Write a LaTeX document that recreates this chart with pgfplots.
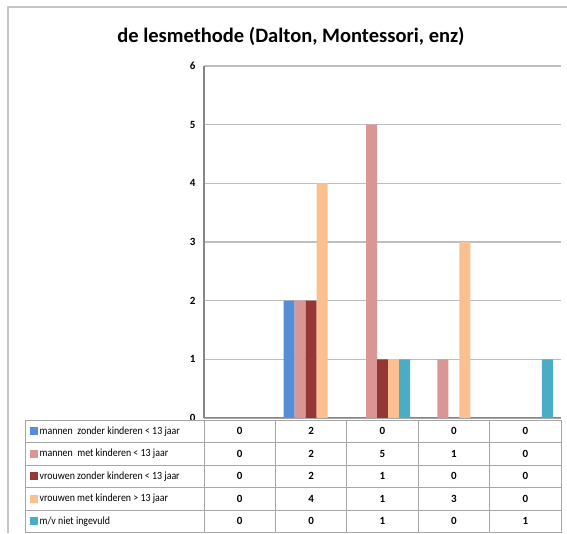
\documentclass[border=0pt]{standalone}
\usepackage{pgfplots}
\pgfplotsset{compat=1.18}
\usepackage{fontspec}
\setmainfont{Carlito}
\newfontfamily\labfont[FakeStretch=0.9]{Carlito}
\definecolor{cA}{RGB}{85,142,213}
\definecolor{cB}{RGB}{217,150,148}
\definecolor{cC}{RGB}{149,55,53}
\definecolor{cD}{RGB}{250,192,144}
\definecolor{cE}{RGB}{75,172,198}
\definecolor{gridc}{RGB}{190,190,190}
\definecolor{axc}{RGB}{134,134,134}
\begin{document}
\begin{tikzpicture}[x=1pt,y=1pt]
\path[use as bounding box] (0,0) rectangle (567,533);
\draw[gray!45, line width=1.6pt] (8,0) -- (8,526) -- (567,526);
\node[font=\bfseries\fontsize{20.5}{24}\selectfont] at (291,497) {de lesmethode (Dalton, Montessori, enz)};
\begin{axis}[
  at={(204pt,115pt)}, anchor=south west,
  width=357pt, height=352pt, scale only axis,
  ymin=0, ymax=6, xmin=-0.5, xmax=4.5,
  ybar=0pt, bar width=11pt,
  ytick={0,1,2,3,4,5,6}, xtick=\empty,
  ymajorgrids, grid style={gridc, line width=1.3pt},
  axis x line=bottom, axis y line=left,
  axis line style={-, axc, line width=1.6pt},
  major tick length=0pt,
  yticklabel style={font=\bfseries\fontsize{11}{13}\selectfont, xshift=-5pt},
  /pgf/number format/assume math mode=true,
  clip=false,
]
\addplot[fill=cA, draw=none] coordinates {(0,0) (1,2) (2,0) (3,0) (4,0)};
\addplot[fill=cB, draw=none] coordinates {(0,0) (1,2) (2,5) (3,1) (4,0)};
\addplot[fill=cC, draw=none] coordinates {(0,0) (1,2) (2,1) (3,0) (4,0)};
\addplot[fill=cD, draw=none] coordinates {(0,0) (1,4) (2,1) (3,3) (4,0)};
\addplot[fill=cE, draw=none] coordinates {(0,0) (1,0) (2,1) (3,0) (4,1)};
\end{axis}
\draw[gray!70, line width=1pt] (204,115) -- (561,115);
% data table
\foreach \yy in {113,90.5,68,45.5,23,0.5} {\draw[gray!70, line width=0.8pt] (25,\yy) -- (561,\yy);}
\foreach \xx in {25,204,275.4,346.8,418.2,489.6,561} {\draw[gray!70, line width=0.8pt] (\xx,0.5) -- (\xx,113);}
\foreach \lab/\col/\yc [count=\i] in {
  {mannen\ \ zonder kinderen < 13 jaar}/cA/101.75,
  {mannen\ \ met kinderen < 13 jaar}/cB/79.25,
  {vrouwen zonder kinderen < 13 jaar}/cC/56.75,
  {vrouwen met kinderen > 13 jaar}/cD/34.25,
  {m/v niet ingevuld}/cE/11.75} {
  \fill[\col] (30,\yc-4) rectangle (38,\yc+4);
  \node[anchor=west, inner sep=0pt, font=\labfont\fontsize{11}{12}\selectfont] at (39.5,\yc) {\lab};
}
\foreach \row/\yc in {{0,2,0,0,0}/101.75, {0,2,5,1,0}/79.25, {0,2,1,0,0}/56.75, {0,4,1,3,0}/34.25, {0,0,1,0,1}/11.75} {
  \foreach \v [count=\j] in \row {
    \node[font=\bfseries\fontsize{11}{13}\selectfont] at (204+71.4*\j-35.7,\yc) {\v};
  }
}
\end{tikzpicture}
\end{document}
